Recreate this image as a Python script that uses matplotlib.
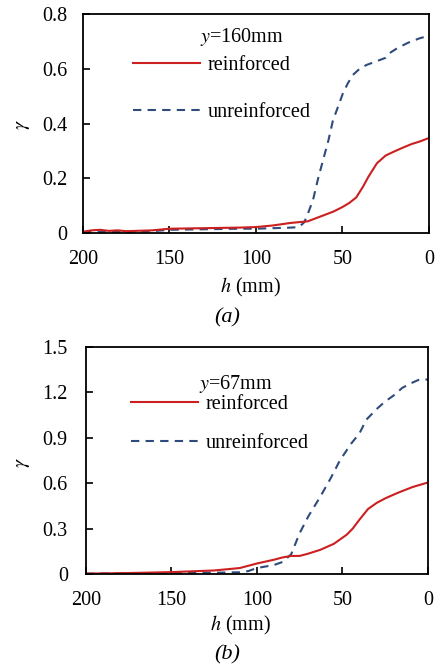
import matplotlib
matplotlib.use("Agg")
import matplotlib.pyplot as plt

plt.rcParams['font.family'] = ['Liberation Serif', 'DejaVu Serif']
plt.rcParams['mathtext.fontset'] = 'stix'

# (a) y = 160 mm
h_a_rein = [200, 195, 190, 185, 180, 175, 170, 160, 150, 140, 130, 120, 110, 100, 90, 80, 75, 70,
            65, 60, 55, 50, 46, 42, 38, 35, 30, 25, 20, 15, 10, 5, 0]
g_a_rein = [0.005, 0.01, 0.012, 0.008, 0.01, 0.007, 0.008, 0.01, 0.016, 0.017, 0.018, 0.019, 0.02,
            0.022, 0.028, 0.037, 0.04, 0.043, 0.055, 0.067, 0.079, 0.095, 0.11, 0.13, 0.17, 0.205,
            0.255, 0.283, 0.298, 0.312, 0.325, 0.335, 0.347]
h_a_unre = [200, 190, 180, 170, 160, 150, 140, 130, 120, 110, 100, 90, 80, 75, 72, 70, 67, 64, 61,
            58, 55.5, 52, 49.7, 47, 44, 40, 36, 30, 25, 22, 18, 12, 5, 0]
g_a_unre = [0.003, 0.005, 0.004, 0.005, 0.007, 0.012, 0.013, 0.014, 0.015, 0.016, 0.016, 0.018,
            0.02, 0.022, 0.04, 0.07, 0.12, 0.2, 0.27, 0.34, 0.41, 0.47, 0.51, 0.545, 0.577, 0.6,
            0.614, 0.628, 0.64, 0.66, 0.676, 0.695, 0.712, 0.72]

# (b) y = 67 mm
h_b_rein = [200, 175, 150, 125, 110, 100, 90, 85, 80, 75, 70, 63, 55, 47.5, 44, 40, 35, 30, 25,
            18, 9, 0]
g_b_rein = [0.003, 0.007, 0.013, 0.024, 0.04, 0.07, 0.095, 0.11, 0.12, 0.12, 0.135, 0.16, 0.2,
            0.26, 0.3, 0.36, 0.43, 0.47, 0.5, 0.535, 0.575, 0.605]
h_b_unre = [200, 150, 120, 110, 105, 100, 90, 85, 80, 75, 70, 63, 57, 51.5, 45, 40, 36, 30, 25,
            20, 15, 10, 5, 0]
g_b_unre = [0.003, 0.006, 0.01, 0.012, 0.02, 0.04, 0.06, 0.08, 0.13, 0.27, 0.38, 0.51, 0.63,
            0.75, 0.86, 0.93, 1.02, 1.09, 1.14, 1.18, 1.23, 1.26, 1.285, 1.285]

RED = '#CC1F1F'
BLUE = '#2F4B7C'
FS = 14.5

fig = plt.figure(figsize=(4.38, 6.66), dpi=100)
ax1 = fig.add_axes([0.1895, 0.650, 0.7895, 0.329])
ax2 = fig.add_axes([0.196, 0.138, 0.781, 0.341])


def style(ax, ylim, yticks, ylabels, ypad):
    ax.set_xlim(200, 0)
    ax.set_ylim(*ylim)
    ax.set_xticks([200, 150, 100, 50, 0])
    ax.set_yticks(yticks)
    ax.set_yticklabels(ylabels)
    ax.tick_params(axis='x', direction='in', length=5, width=1.2, labelsize=FS, pad=12)
    ax.tick_params(axis='y', direction='in', length=5, width=1.2, labelsize=FS, pad=ypad)
    for s in ax.spines.values():
        s.set_linewidth(1.3)
        s.set_color('black')


lw = 1.5
dash = (4.0, 3.0)

ax1.plot(h_a_unre, g_a_unre, color=BLUE, lw=lw, ls=(0, dash), label='unreinforced')
ax1.plot(h_a_rein, g_a_rein, color=RED, lw=lw, label='reinforced')
style(ax1, (0, 0.8), [0, 0.2, 0.4, 0.6, 0.8], ['0', '0.2', '0.4', '0.6', '0.8'], 11)

ax2.plot(h_b_unre, g_b_unre, color=BLUE, lw=lw, ls=(0, dash), label='unreinforced')
ax2.plot(h_b_rein, g_b_rein, color=RED, lw=lw, label='reinforced')
style(ax2, (0, 1.5), [0, 0.3, 0.6, 0.9, 1.2, 1.5], ['0', '0.3', '0.6', '0.9', '1.2', '1.5'], 13)

for ax, title, tx, ty, lx, ly, sp in [(ax1, '$y$=160mm', 0.46, 0.895, 0.145, 0.807, 1.35),
                                      (ax2, '$y$=67mm', 0.44, 0.838, 0.133, 0.787, 0.95)]:
    ax.text(tx, ty, title, transform=ax.transAxes, ha='center', va='center', fontsize=FS)
    hs, ls_ = ax.get_legend_handles_labels()
    ax.legend(hs[::-1], ls_[::-1], loc='upper left', bbox_to_anchor=(lx, ly), frameon=False,
              fontsize=FS, handlelength=3.3, handletextpad=0.4, labelspacing=sp,
              borderpad=0, borderaxespad=0)

fig.text(250 / 438, 1 - 287 / 666, '$h$ (mm)', ha='center', va='center', fontsize=FS)
fig.text(240 / 438, 1 - 625 / 666, '$h$ (mm)', ha='center', va='center', fontsize=FS)
fig.text(227 / 438, 1 - 318 / 666, '(a)', ha='center', va='center', fontsize=16, style='italic')
fig.text(227 / 438, 1 - 655 / 666, '(b)', ha='center', va='center', fontsize=16, style='italic')
fig.text(22 / 438, 1 - 125 / 666, r'$\gamma$', ha='center', va='center', fontsize=FS, rotation=90)
fig.text(22 / 438, 1 - 463 / 666, r'$\gamma$', ha='center', va='center', fontsize=FS, rotation=90)

fig.savefig('out.png', dpi=100)
